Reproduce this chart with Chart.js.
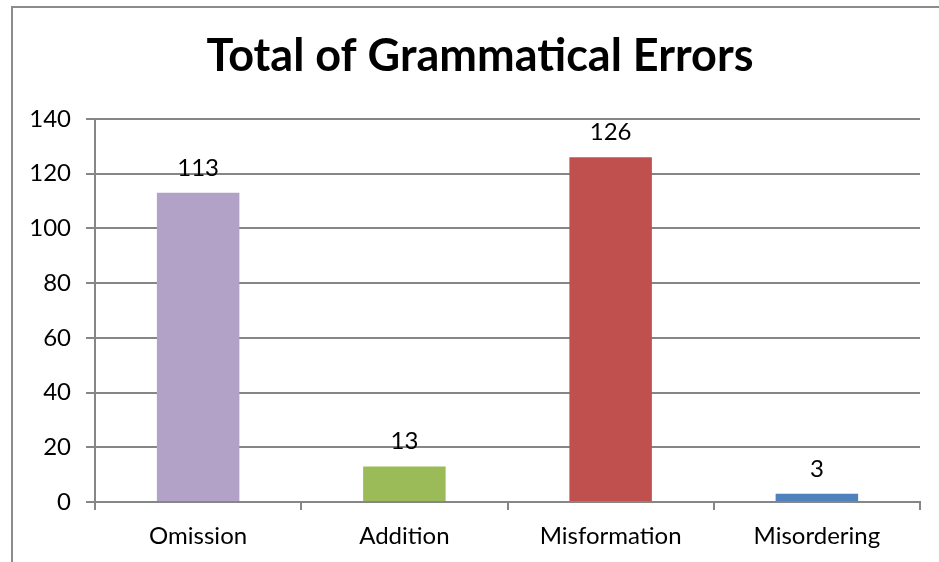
<!DOCTYPE html>
<html>
<head>
<meta charset="utf-8">
<script src="https://cdn.jsdelivr.net/npm/chart.js@4.4.1/dist/chart.umd.min.js"></script>
<style>
    html, body { margin: 0; padding: 0; background: #fff; overflow: hidden; }
    .frame { position: absolute; left: 11px; top: 6px; width: 1000px; height: 700px; border: 2px solid #8c8c8c; }
    .wrap { position: absolute; left: 0; top: 0; width: 939px; height: 562px; }
</style>
</head>
<body>
<div class="frame"></div>
<div class="wrap"><canvas id="errChart" width="939" height="562"></canvas></div>
<script>
// datos del gráfico
const categories = ['Omission', 'Addition', 'Misformation', 'Misordering'];
const errorCounts = [113, 13, 126, 3];
const barColors = ['#b3a2c7', '#9bbb59', '#c0504d', '#4f81bd'];
const yTicks = [0, 20, 40, 60, 80, 100, 120, 140];
const chartTitle = 'Total of Grammatical Errors';

const FONT = 'Lato, "Open Sans", sans-serif';
const GRID = '#868686';

// título centrado sobre el marco (no sobre el canvas)
const frameTitle = {
    id: 'frameTitle',
    afterDraw(chart) {
        const ctx = chart.ctx;
        ctx.save();
        ctx.font = 'bold 45px ' + FONT;
        ctx.fillStyle = '#000';
        ctx.textAlign = 'center';
        ctx.textBaseline = 'middle';
        ctx.fillText(chartTitle, 480, 56);
        ctx.restore();
    }
};

// etiquetas de valor encima de cada barra
const valueLabels = {
    id: 'valueLabels',
    afterDatasetsDraw(chart) {
        const ctx = chart.ctx;
        const meta = chart.getDatasetMeta(0);
        ctx.save();
        ctx.font = '24px ' + FONT;
        ctx.fillStyle = '#000';
        ctx.textAlign = 'center';
        ctx.textBaseline = 'middle';
        meta.data.forEach((bar, i) => {
            ctx.fillText(String(errorCounts[i]), bar.x, bar.y - 25);
        });
        ctx.restore();
    }
};

const ctx = document.getElementById('errChart').getContext('2d');
new Chart(ctx, {
    type: 'bar',
    data: {
        labels: categories,
        datasets: [{
            data: errorCounts,
            backgroundColor: barColors,
            barPercentage: 0.4,
            categoryPercentage: 1
        }]
    },
    options: {
        responsive: false,
        animation: false,
        layout: { padding: { left: 0, right: 19, top: 119, bottom: 0 } },
        plugins: {
            legend: { display: false },
            tooltip: { enabled: false },
            title: { display: false }
        },
        scales: {
            x: {
                grid: { display: true, drawOnChartArea: false, offset: true, color: GRID, tickLength: 8, lineWidth: 2 },
                border: { color: GRID, width: 2 },
                ticks: { color: '#000', font: { family: FONT, size: 24 }, padding: 12 },
                afterFit: (s) => { s.height = 60; }
            },
            y: {
                min: 0,
                max: 140,
                afterBuildTicks: (s) => { s.ticks = yTicks.map(v => ({ value: v })); },
                grid: { color: GRID, tickLength: 9, lineWidth: 2 },
                border: { color: GRID, width: 2 },
                ticks: { color: '#000', font: { family: FONT, size: 24 }, padding: 15 },
                afterFit: (s) => { s.width = 95; }
            }
        }
    },
    plugins: [valueLabels, frameTitle]
});
</script>
</body>
</html>
